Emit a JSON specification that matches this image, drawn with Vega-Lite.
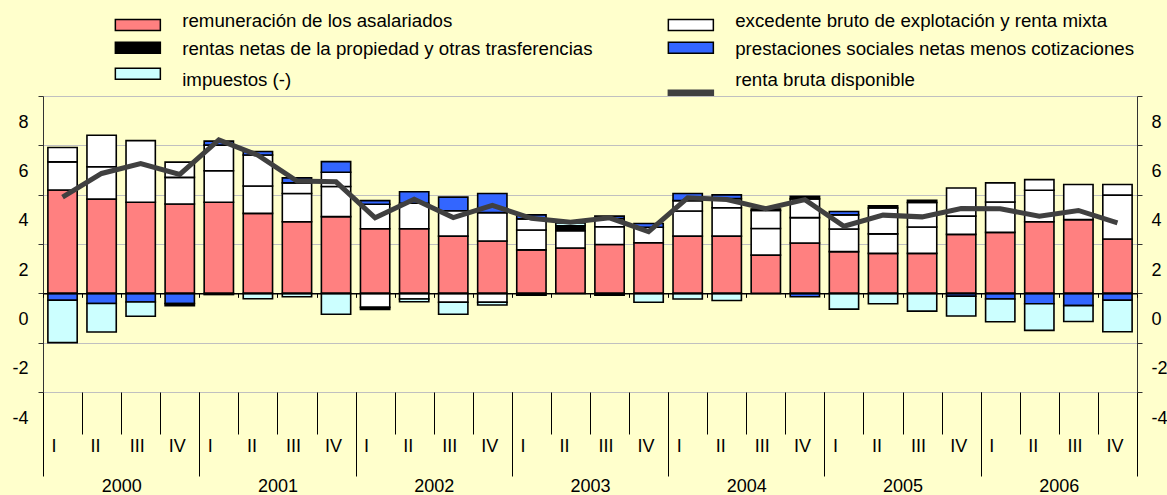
{
  "$schema": "https://vega.github.io/schema/vega-lite/v6.json",
  "width": 1094,
  "height": 296,
  "autosize": {"type": "none"},
  "padding": {"left": 43, "top": 96, "right": 30, "bottom": 103},
  "background": "#FFFFCC",
  "config": {
    "view": {"stroke": null},
    "font": "Liberation Sans",
    "axis": {"labelFont": "Liberation Sans", "labelColor": "#000000", "labelFontSize": 18}
  },
  "data": {
    "values": [
      {"q": "2000-I", "yr": "2000", "1rem": 4.19, "2exc": 1.14, "3mix": 0.58, "4pre": -0.28, "5ren": 0, "6imp": -1.72, "7rbd": 3.9},
      {"q": "2000-II", "yr": "2000", "1rem": 3.82, "2exc": 1.31, "3mix": 1.28, "4pre": -0.41, "5ren": 0, "6imp": -1.16, "7rbd": 4.86},
      {"q": "2000-III", "yr": "2000", "1rem": 3.69, "2exc": 2.5, "3mix": 0, "4pre": -0.35, "5ren": 0, "6imp": -0.58, "7rbd": 5.26},
      {"q": "2000-IV", "yr": "2000", "1rem": 3.62, "2exc": 1.08, "3mix": 0.62, "4pre": -0.41, "5ren": -0.09, "6imp": 0, "7rbd": 4.82},
      {"q": "2001-I", "yr": "2001", "1rem": 3.69, "2exc": 1.28, "3mix": 1.04, "4pre": 0.16, "5ren": -0.05, "6imp": 0, "7rbd": 6.22},
      {"q": "2001-II", "yr": "2001", "1rem": 3.24, "2exc": 1.11, "3mix": 1.26, "4pre": 0.14, "5ren": 0, "6imp": -0.22, "7rbd": 5.6},
      {"q": "2001-III", "yr": "2001", "1rem": 2.9, "2exc": 1.15, "3mix": 0.43, "4pre": 0.2, "5ren": 0, "6imp": -0.14, "7rbd": 4.55},
      {"q": "2001-IV", "yr": "2001", "1rem": 3.11, "2exc": 1.22, "3mix": 0.58, "4pre": 0.43, "5ren": 0, "6imp": -0.85, "7rbd": 4.52},
      {"q": "2002-I", "yr": "2002", "1rem": 2.62, "2exc": 0.99, "3mix": -0.57, "4pre": 0.15, "5ren": -0.08, "6imp": 0, "7rbd": 3.06},
      {"q": "2002-II", "yr": "2002", "1rem": 2.62, "2exc": 1.03, "3mix": -0.23, "4pre": 0.47, "5ren": 0, "6imp": -0.11, "7rbd": 3.81},
      {"q": "2002-III", "yr": "2002", "1rem": 2.32, "2exc": 1.03, "3mix": -0.36, "4pre": 0.55, "5ren": 0, "6imp": -0.49, "7rbd": 3.07},
      {"q": "2002-IV", "yr": "2002", "1rem": 2.12, "2exc": 1.15, "3mix": -0.36, "4pre": 0.78, "5ren": 0, "6imp": -0.11, "7rbd": 3.57},
      {"q": "2003-I", "yr": "2003", "1rem": 1.76, "2exc": 0.81, "3mix": 0.45, "4pre": 0.16, "5ren": -0.08, "6imp": 0, "7rbd": 3.04},
      {"q": "2003-II", "yr": "2003", "1rem": 1.84, "2exc": 0.7, "3mix": 0, "4pre": 0, "5ren": 0.2, "6imp": 0.11, "7rbd": 2.88},
      {"q": "2003-III", "yr": "2003", "1rem": 1.98, "2exc": 0.72, "3mix": 0.33, "4pre": 0.1, "5ren": -0.08, "6imp": 0, "7rbd": 3.06},
      {"q": "2003-IV", "yr": "2003", "1rem": 2.05, "2exc": 0.63, "3mix": 0, "4pre": 0.15, "5ren": 0, "6imp": -0.36, "7rbd": 2.5},
      {"q": "2004-I", "yr": "2004", "1rem": 2.32, "2exc": 1.02, "3mix": 0.42, "4pre": 0.29, "5ren": 0, "6imp": -0.23, "7rbd": 3.87},
      {"q": "2004-II", "yr": "2004", "1rem": 2.32, "2exc": 1.15, "3mix": 0.37, "4pre": 0.15, "5ren": 0, "6imp": -0.29, "7rbd": 3.8},
      {"q": "2004-III", "yr": "2004", "1rem": 1.55, "2exc": 1.08, "3mix": 0.73, "4pre": 0, "5ren": 0.06, "6imp": 0, "7rbd": 3.43},
      {"q": "2004-IV", "yr": "2004", "1rem": 2.04, "2exc": 1.03, "3mix": 0.76, "4pre": -0.14, "5ren": 0.1, "6imp": 0, "7rbd": 3.8},
      {"q": "2005-I", "yr": "2005", "1rem": 1.69, "2exc": 0.92, "3mix": 0.57, "4pre": 0.14, "5ren": 0, "6imp": -0.64, "7rbd": 2.72},
      {"q": "2005-II", "yr": "2005", "1rem": 1.62, "2exc": 0.79, "3mix": 1.05, "4pre": 0, "5ren": 0.09, "6imp": -0.42, "7rbd": 3.17},
      {"q": "2005-III", "yr": "2005", "1rem": 1.62, "2exc": 1.07, "3mix": 0.99, "4pre": 0, "5ren": 0.09, "6imp": -0.72, "7rbd": 3.1},
      {"q": "2005-IV", "yr": "2005", "1rem": 2.39, "2exc": 0.74, "3mix": 1.14, "4pre": -0.12, "5ren": 0, "6imp": -0.8, "7rbd": 3.44},
      {"q": "2006-I", "yr": "2006", "1rem": 2.47, "2exc": 1.23, "3mix": 0.78, "4pre": -0.23, "5ren": 0, "6imp": -0.92, "7rbd": 3.43},
      {"q": "2006-II", "yr": "2006", "1rem": 2.9, "2exc": 1.28, "3mix": 0.43, "4pre": -0.42, "5ren": 0, "6imp": -1.08, "7rbd": 3.13},
      {"q": "2006-III", "yr": "2006", "1rem": 2.99, "2exc": 1.42, "3mix": 0, "4pre": -0.5, "5ren": 0, "6imp": -0.64, "7rbd": 3.36},
      {"q": "2006-IV", "yr": "2006", "1rem": 2.2, "2exc": 1.78, "3mix": 0.43, "4pre": -0.28, "5ren": 0, "6imp": -1.28, "7rbd": 2.86}
    ]
  },
  "transform": [
    {"fold": ["1rem", "2exc", "3mix", "4pre", "5ren", "6imp", "7rbd"], "as": ["s", "v"]},
    {"filter": "datum.v != 0"}
  ],
  "resolve": {
    "scale": {"x": "independent", "y": "shared"},
    "axis": {"x": "independent", "y": "independent"}
  },
  "layer": [
    {
      "transform": [{"filter": "datum.s != '7rbd'"}],
      "mark": {"type": "bar", "stroke": "#000000", "strokeWidth": 1.6, "width": {"band": 0.75}},
      "encoding": {
        "x": {
          "field": "q", "type": "nominal",
          "scale": {"type": "band", "paddingInner": 0, "paddingOuter": 0},
          "axis": {"orient": "bottom", "offset": -98.67, "labels": false, "tickBand": "extent", "tickSize": 4, "tickColor": "#000000", "domainColor": "#000000", "domainWidth": 1.5, "grid": false, "title": null, "zindex": 1}
        },
        "y": {
          "field": "v", "type": "quantitative", "stack": "zero",
          "scale": {"domain": [-4, 8], "nice": false, "zero": false},
          "axis": {"orient": "left", "values": [-4, -2, 0, 2, 4, 6, 8], "grid": true, "gridColor": "#c0c0c0", "gridWidth": 1, "domainColor": "#333333", "tickColor": "#333333", "tickSize": 5, "labelPadding": 10, "labelOffset": 26, "title": null, "labelExpr": "datum.value < 0 ? '-' + abs(datum.value) : '' + datum.value"}
        },
        "color": {
          "field": "s", "type": "nominal",
          "scale": {
            "domain": ["1rem", "2exc", "3mix", "4pre", "5ren", "6imp", "7rbd"],
            "range": ["#FF8080", "#FFFFFF", "#FFFFFF", "#3366FF", "#000000", "#CCFFFF", "#404040"]
          },
          "legend": {
            "orient": "none", "legendX": 85.5, "legendY": -80.5, "direction": "vertical",
            "columns": 2, "columnPadding": 71, "rowPadding": 5, "padding": 0,
            "values": ["1rem", "5ren", "6imp", "2exc", "4pre", "7rbd"],
            "symbolSize": 144, "symbolStrokeWidth": 1.5, "symbolStrokeColor": "#000000",
            "labelFontSize": 18.7, "labelOffset": 35, "labelColor": "#000000", "labelFont": "Liberation Sans", "labelLimit": 700,
            "title": null,
            "labelExpr": "datum.value == '1rem' ? 'remuneración de los asalariados' : datum.value == '2exc' ? 'excedente bruto de explotación y renta mixta' : datum.value == '4pre' ? 'prestaciones sociales netas menos cotizaciones' : datum.value == '5ren' ? 'rentas netas de la propiedad y otras trasferencias' : datum.value == '6imp' ? 'impuestos (-)' : 'renta bruta disponible'",
            "encode": {
              "labels": {
                "update": {
                  "dy": {"signal": "datum.value == '1rem' || datum.value == '2exc' ? -3.5 : datum.value == '5ren' || datum.value == '4pre' ? 1.5 : 6.5"}
                }
              },
              "symbols": {
                "enter": {
                  "stroke": {"signal": "datum.value == '7rbd' ? '#404040' : '#000000'"},
                  "strokeWidth": {"value": 1.5}
                },
                "update": {
                  "shape": {"signal": "datum.value == '7rbd' ? 'M-3.75,2.75H3.75V3.55H-3.75Z' : 'M-3.75,-0.92H3.75V0.92H-3.75Z'"},
                  "fill": {"signal": "scale('color', datum.value)"},
                  "stroke": {"signal": "datum.value == '7rbd' ? '#404040' : '#000000'"},
                  "strokeWidth": {"value": 1.5},
                  "opacity": {"value": 1}
                }
              }
            }
          }
        },
        "order": {"field": "s", "sort": "ascending"}
      }
    },
    {
      "transform": [{"filter": "datum.s == '7rbd'"}],
      "mark": {"type": "line", "strokeWidth": 5, "color": "#404040"},
      "encoding": {
        "x": {"field": "q", "type": "nominal", "axis": null},
        "y": {
          "field": "v", "type": "quantitative",
          "axis": {"orient": "right", "values": [-4, -2, 0, 2, 4, 6, 8], "grid": false, "domainColor": "#333333", "tickColor": "#333333", "tickSize": 5, "labelPadding": 9, "labelOffset": 26, "title": null, "labelExpr": "datum.value < 0 ? '-' + abs(datum.value) : '' + datum.value"}
        }
      }
    },
    {
      "mark": {"type": "bar", "opacity": 0},
      "encoding": {
        "x": {
          "field": "q", "type": "nominal",
          "scale": {"type": "band", "paddingInner": 0, "paddingOuter": 0},
          "axis": {"orient": "bottom", "domain": false, "tickBand": "extent", "tickSize": 42, "tickColor": "#000000", "tickWidth": 1, "grid": false, "title": null, "labelExpr": "split(datum.value, '-')[1]", "labelAlign": "left", "labelOffset": -11.5, "labelPadding": 3, "labelAngle": 0}
        }
      }
    },
    {
      "mark": {"type": "bar", "opacity": 0},
      "encoding": {
        "x": {
          "field": "yr", "type": "nominal",
          "scale": {"type": "band", "paddingInner": 0, "paddingOuter": 0},
          "axis": {"orient": "bottom", "domain": false, "tickBand": "extent", "tickSize": 84, "tickColor": "#000000", "tickWidth": 1, "grid": false, "title": null, "labelPadding": 1, "labelAngle": 0}
        }
      }
    }
  ]
}
